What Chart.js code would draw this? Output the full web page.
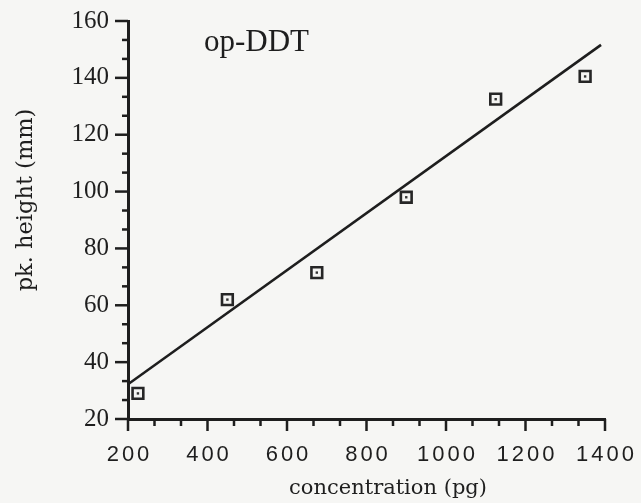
<!DOCTYPE html>
<html>
<head>
<meta charset="utf-8">
<script src="https://cdn.jsdelivr.net/npm/chart.js@4.4.0/dist/chart.umd.min.js"></script>
<style>
  html, body { margin: 0; padding: 0; background: #f6f6f4; }
  #wrap { width: 641px; height: 503px; }
  canvas { display: block; }
</style>
</head>
<body>
<div id="wrap"><canvas id="chart" width="641" height="503"></canvas></div>
<script>
// Calibration data for op-DDT: injected amount vs. peak height
const concentration = [225, 450, 675, 900, 1125, 1350];
const peakHeight = [29, 62, 71.5, 98, 132.5, 140.5];

// Least-squares fit line, drawn between its two end points
const fitConcentration = [200, 1390];
const fitPeakHeight = [32.2, 151.6];

// Axis ticks
const xTickValues = [200, 400, 600, 800, 1000, 1200, 1400];
const xTickLabels = ['200', '400', '600', '800', '1000', '1200', '1400'];
const yTickValues = [20, 40, 60, 80, 100, 120, 140, 160];
const yTickLabels = ['20', '40', '60', '80', '100', '120', '140', '160'];
const minorDivisions = 3;

const panelLabel = 'op-DDT';
const xTitle = 'concentration (pg)';
const yTitle = 'pk. height (mm)';

const INK = '#1e1e1e';

function pairs(xs, ys) {
  return xs.map((x, i) => ({ x: x, y: ys[i] }));
}

// Axis tick marks (major and minor), x tick labels, axis titles and panel label
const decorations = {
  id: 'decorations',
  beforeDraw(chart) {
    const ctx = chart.ctx;
    ctx.save();
    ctx.fillStyle = '#f6f6f4';
    ctx.fillRect(0, 0, chart.width, chart.height);
    ctx.restore();
  },
  afterDraw(chart) {
    const ctx = chart.ctx;
    const xs = chart.scales.x;
    const ys = chart.scales.y;
    const area = chart.chartArea;
    ctx.save();
    ctx.strokeStyle = INK;
    ctx.lineWidth = 2.5;
    ctx.lineCap = 'butt';

    // y ticks, pointing left
    for (let i = 0; i < yTickValues.length; i++) {
      const v0 = yTickValues[i];
      const yp = ys.getPixelForValue(v0);
      ctx.beginPath();
      ctx.moveTo(area.left - 13, yp);
      ctx.lineTo(area.left, yp);
      ctx.stroke();
      if (i < yTickValues.length - 1) {
        const step = (yTickValues[i + 1] - v0) / minorDivisions;
        for (let k = 1; k < minorDivisions; k++) {
          const ym = ys.getPixelForValue(v0 + step * k);
          ctx.beginPath();
          ctx.moveTo(area.left - 6, ym);
          ctx.lineTo(area.left, ym);
          ctx.stroke();
        }
      }
    }

    // x ticks, pointing down
    for (let i = 0; i < xTickValues.length; i++) {
      const v0 = xTickValues[i];
      const xp = xs.getPixelForValue(v0);
      ctx.beginPath();
      ctx.moveTo(xp, area.bottom);
      ctx.lineTo(xp, area.bottom + 12);
      ctx.stroke();
      if (i < xTickValues.length - 1) {
        const step = (xTickValues[i + 1] - v0) / minorDivisions;
        for (let k = 1; k < minorDivisions; k++) {
          const xm = xs.getPixelForValue(v0 + step * k);
          ctx.beginPath();
          ctx.moveTo(xm, area.bottom);
          ctx.lineTo(xm, area.bottom + 7);
          ctx.stroke();
        }
      }
    }

    // x tick labels (spaced sans-serif digits)
    ctx.fillStyle = INK;
    ctx.font = '22px "Liberation Sans", Arial, sans-serif';
    ctx.textAlign = 'center';
    ctx.textBaseline = 'middle';
    const spacing = 3;
    if ('letterSpacing' in ctx) ctx.letterSpacing = spacing + 'px';
    xTickValues.forEach((v, i) => {
      ctx.fillText(xTickLabels[i], xs.getPixelForValue(v) + spacing / 2, area.bottom + 36);
    });
    if ('letterSpacing' in ctx) ctx.letterSpacing = '0px';

    // axis titles
    ctx.font = '21px "DejaVu Serif", serif';
    ctx.textBaseline = 'alphabetic';
    ctx.fillText(xTitle, 388, 494);

    ctx.save();
    ctx.font = '22.5px "DejaVu Serif", serif';
    ctx.translate(32, 200);
    ctx.rotate(-Math.PI / 2);
    ctx.textAlign = 'center';
    ctx.fillText(yTitle, 0, 0);
    ctx.restore();

    // panel label inside the plot
    ctx.font = '31px "Liberation Serif", "Times New Roman", serif';
    ctx.textAlign = 'left';
    ctx.fillText(panelLabel, 204, 51);

    ctx.restore();
  }
};

new Chart(document.getElementById('chart'), {
  type: 'scatter',
  data: {
    datasets: [
      {
        type: 'line',
        label: 'fit',
        data: pairs(fitConcentration, fitPeakHeight),
        borderColor: INK,
        borderWidth: 2.6,
        pointRadius: 0,
        fill: false,
        tension: 0,
        order: 3
      },
      {
        label: 'op-DDT',
        data: pairs(concentration, peakHeight),
        pointStyle: 'rect',
        pointRadius: 7.6,
        pointBorderWidth: 2.6,
        borderColor: '#262626',
        backgroundColor: '#f4f4f2',
        pointBackgroundColor: '#f4f4f2',
        pointBorderColor: '#262626',
        order: 2
      },
      {
        label: 'centre',
        data: pairs(concentration, peakHeight),
        pointStyle: 'rect',
        pointRadius: 1.7,
        pointBorderWidth: 0,
        pointBackgroundColor: '#333333',
        order: 1
      }
    ]
  },
  options: {
    responsive: false,
    animation: false,
    devicePixelRatio: 1,
    layout: { padding: { left: 0, right: 36, top: 21, bottom: 0 } },
    plugins: {
      legend: { display: false },
      tooltip: { enabled: false },
      title: { display: false }
    },
    scales: {
      x: {
        type: 'linear',
        min: 200,
        max: 1400,
        afterBuildTicks: s => { s.ticks = xTickValues.map(v => ({ value: v })); },
        afterFit: s => { s.height = 84; s.paddingLeft = 0; s.paddingRight = 0; },
        ticks: { display: false },
        grid: { display: false, drawTicks: false },
        border: { display: true, color: INK, width: 3 }
      },
      y: {
        type: 'linear',
        min: 20,
        max: 160,
        afterBuildTicks: s => { s.ticks = yTickValues.map(v => ({ value: v })); },
        afterFit: s => { s.width = 128; s.paddingTop = 0; s.paddingBottom = 0; },
        ticks: {
          padding: 19,
          color: INK,
          font: { family: '"Liberation Serif", "Times New Roman", serif', size: 25 },
          callback: (value) => {
            const i = yTickValues.indexOf(value);
            return i >= 0 ? yTickLabels[i] : '';
          }
        },
        grid: { display: false, drawTicks: false },
        border: { display: true, color: INK, width: 3 }
      }
    }
  },
  plugins: [decorations]
});
</script>
</body>
</html>
